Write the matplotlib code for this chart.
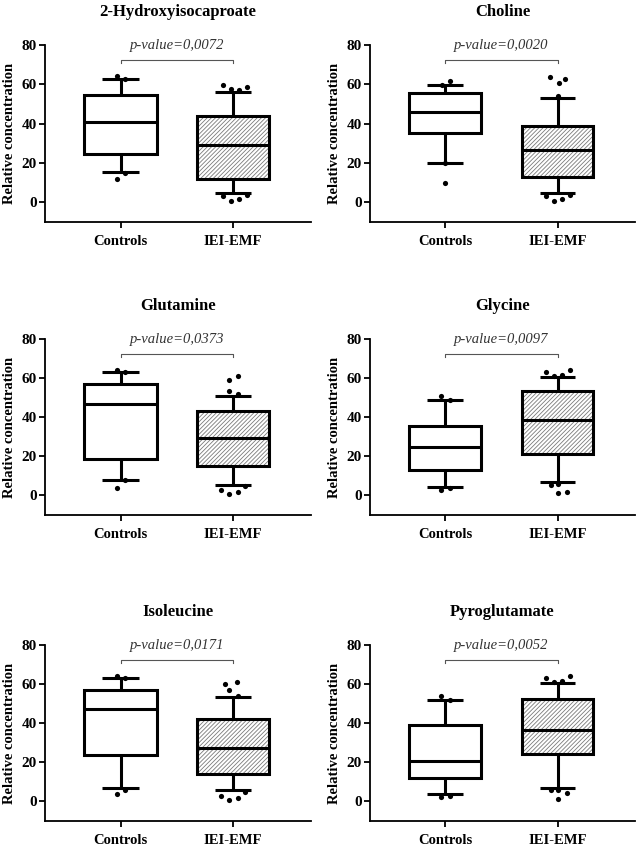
import matplotlib
matplotlib.use('Agg')
import matplotlib.pyplot as plt
from matplotlib.patches import PathPatch

plt.rcParams['font.family'] = ['Liberation Serif', 'DejaVu Serif']
plt.rcParams['hatch.linewidth'] = 0.6

# ---------------- data ----------------
titles = ['2-Hydroxyisocaproate', 'Choline', 'Glutamine', 'Glycine', 'Isoleucine', 'Pyroglutamate']
pvalues = ['p-value=0,0072', 'p-value=0,0020', 'p-value=0,0373', 'p-value=0,0097', 'p-value=0,0171', 'p-value=0,0052']
groups = ['Controls', 'IEI-EMF']
yticks = [0, 20, 40, 60, 80]
ylabel = 'Relative concentration'

ctrl_whislo = [15.4, 20.1, 8.0, 4.3, 6.8, 3.9]
ctrl_q1 = [24.7, 35.5, 18.7, 12.9, 23.9, 12.0]
ctrl_med = [40.8, 46.0, 46.6, 24.7, 47.4, 20.8]
ctrl_q3 = [54.8, 55.8, 57.2, 35.4, 57.1, 39.2]
ctrl_whishi = [62.6, 59.7, 63.0, 49.0, 63.0, 52.0]
ctrl_fliers = [
    [64.0, 62.6, 12.0, 14.9],
    [61.7, 59.8, 10.0, 19.8],
    [64.3, 63.0, 3.7, 8.0],
    [51.1, 49.0, 2.7, 3.6],
    [64.2, 63.0, 3.9, 5.8],
    [54.0, 52.0, 2.2, 2.7],
]

iei_whislo = [4.7, 4.7, 5.4, 7.0, 6.1, 6.8]
iei_q1 = [12.0, 12.9, 15.0, 21.3, 13.8, 24.5]
iei_med = [28.9, 26.6, 29.4, 38.6, 27.3, 36.5]
iei_q3 = [44.1, 38.7, 43.1, 53.4, 42.1, 52.3]
iei_whishi = [56.0, 53.3, 51.1, 60.6, 53.2, 60.6]
iei_fliers = [
    [59.9, 57.7, 57.2, 58.7, 3.0, 0.8, 1.9, 3.7],
    [63.6, 54.1, 60.5, 62.6, 3.0, 0.8, 1.9, 3.7],
    [58.9, 53.3, 60.9, 52.1, 2.7, 0.9, 1.9, 4.8],
    [63.1, 60.9, 61.8, 64.0, 5.1, 6.1, 1.0, 2.0],
    [60.1, 57.1, 61.0, 54.0, 2.7, 0.7, 1.9, 4.9],
    [63.0, 60.9, 61.8, 64.0, 5.6, 5.7, 1.4, 4.1],
]

# ---------------- layout (not data) ----------------
ctrl_offsets = [
    [-0.03, 0.04, -0.03, 0.04],
    [0.04, -0.03, 0.0, 0.0],
    [-0.03, 0.04, -0.03, 0.04],
    [-0.04, 0.04, -0.04, 0.04],
    [-0.03, 0.04, -0.03, 0.04],
    [-0.04, 0.04, -0.04, 0.04],
]
iei_offsets = [
    [-0.09, -0.02, 0.05, 0.12, -0.09, -0.02, 0.05, 0.12],
    [-0.07, 0.0, 0.01, 0.07, -0.10, -0.03, 0.04, 0.11],
    [-0.04, -0.04, 0.04, 0.04, -0.11, -0.04, 0.04, 0.10],
    [-0.10, -0.03, 0.04, 0.11, -0.06, 0.0, 0.0, 0.08],
    [-0.07, -0.04, 0.03, 0.04, -0.11, -0.04, 0.04, 0.10],
    [-0.10, -0.03, 0.04, 0.11, -0.06, 0.0, 0.0, 0.08],
]

W, H = 640, 847
fig = plt.figure(figsize=(W / 100, H / 100), dpi=100)

cols = [(45, 311), (370, 635)]
rows = [(45, 222), (339, 515), (645, 821)]

for i in range(6):
    r, c = divmod(i, 2)
    l, rr = cols[c]
    t, b = rows[r]
    ax = fig.add_axes([l / W, 1 - b / H, (rr - l) / W, (b - t) / H])

    stats = [
        dict(med=ctrl_med[i], q1=ctrl_q1[i], q3=ctrl_q3[i],
             whislo=ctrl_whislo[i], whishi=ctrl_whishi[i], fliers=[]),
        dict(med=iei_med[i], q1=iei_q1[i], q3=iei_q3[i],
             whislo=iei_whislo[i], whishi=iei_whishi[i], fliers=[]),
    ]
    lw = 2.2
    bp = ax.bxp(stats, positions=[0, 1], widths=0.64, patch_artist=True,
                showfliers=False,
                boxprops=dict(linewidth=lw, edgecolor='black', facecolor='white'),
                medianprops=dict(color='black', linewidth=lw),
                whiskerprops=dict(color='black', linewidth=lw),
                capprops=dict(color='black', linewidth=lw))
    # hatched box: grey hatch, black outline drawn on top
    hb = bp['boxes'][1]
    hb.set_edgecolor('#7a7a7a')
    hb.set_linewidth(0)
    hb.set_hatch('////////')
    outline = PathPatch(hb.get_path(), transform=hb.get_transform(),
                        facecolor='none', edgecolor='black', linewidth=lw, zorder=hb.get_zorder() + 0.1)
    ax.add_patch(outline)
    for ln in bp['medians'] + bp['whiskers'] + bp['caps']:
        ln.set_solid_capstyle('butt')
        ln.set_zorder(3)

    ax.scatter([0 + o for o in ctrl_offsets[i]], ctrl_fliers[i], s=14, color='black',
               zorder=5, clip_on=False, linewidths=0)
    ax.scatter([1 + o for o in iei_offsets[i]], iei_fliers[i], s=14, color='black',
               zorder=5, clip_on=False, linewidths=0)

    ax.set_xlim(-0.67, 1.69)
    ax.set_ylim(-10, 80)
    ax.spines['top'].set_visible(False)
    ax.spines['right'].set_visible(False)
    ax.spines['left'].set_bounds(-10, 80)
    for s in ('left', 'bottom'):
        ax.spines[s].set_linewidth(1.3)
    ax.set_yticks(yticks)
    ax.set_yticklabels([str(v) for v in yticks], fontsize=11, fontweight='bold')
    ax.set_xticks([0, 1])
    ax.set_xticklabels(groups, fontsize=10.5, fontweight='bold')
    ax.tick_params(axis='y', length=4, width=1.3, pad=2)
    ax.tick_params(axis='x', length=4, width=1.3, pad=5)
    ax.set_ylabel(ylabel, fontsize=10.5, fontweight='bold', labelpad=4)
    ax.set_title(titles[i], fontsize=12, fontweight='bold', pad=21)

    # significance bracket
    ax.plot([0, 0, 1, 1], [70.8, 72.2, 72.2, 70.8], color='#555555', lw=0.8,
            clip_on=False, zorder=3)
    ax.text(0.5, 79.5, pvalues[i], ha='center', va='center', fontsize=10.5,
            fontstyle='italic', color='#333333', clip_on=False)

fig.savefig('out.png', dpi=100)
